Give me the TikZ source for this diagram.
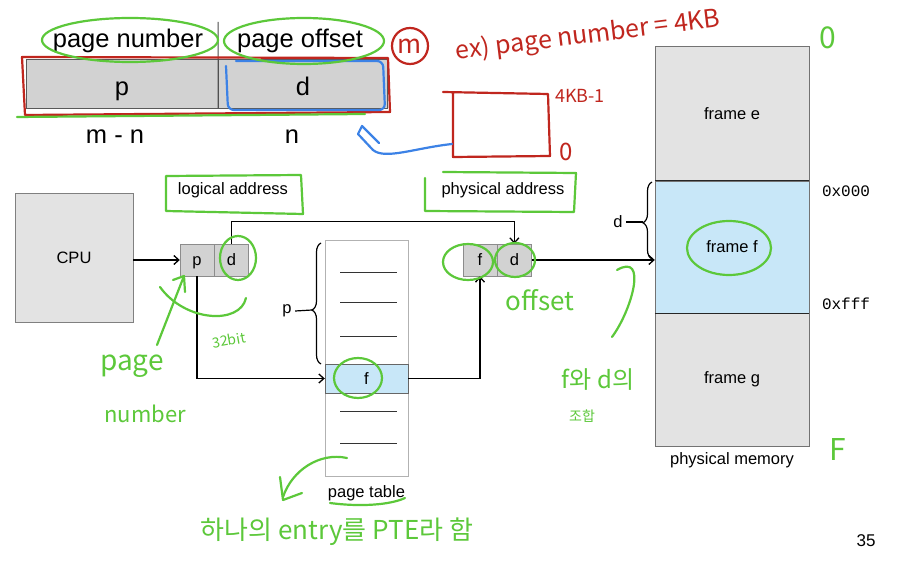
\documentclass[tikz,border=0pt]{standalone}
\usepackage{fontspec}
\setmainfont{Liberation Sans}
\newfontfamily\hexfont{Liberation Mono}
\newfontfamily\handfont{Noto Sans CJK KR}
\usetikzlibrary{arrows}
\usetikzlibrary{arrows.meta}
\usetikzlibrary{positioning}
\usetikzlibrary{decorations.pathreplacing}

\definecolor{cellgray}{HTML}{D2D2D2}
\definecolor{boxgray}{HTML}{E3E3E3}
\definecolor{frameblue}{HTML}{C8E7F8}
\definecolor{pengreen}{HTML}{5CC83A}
\definecolor{penred}{HTML}{C0261E}
\definecolor{penblue}{HTML}{3C82E6}

\newcommand{\slidefont}{\fontsize{16.5}{18}\selectfont}
\newcommand{\headfont}{\fontsize{25.5}{28}\selectfont}

\begin{document}
\begin{tikzpicture}[x=1pt,y=-1pt,
  barcell/.style={draw=black!65,fill=cellgray,minimum height=49pt,inner sep=0pt,font=\headfont,text height=25pt,text depth=0pt},
  addrcell/.style={draw=black!45,fill=cellgray,minimum width=34pt,minimum height=32pt,inner sep=0pt,font=\slidefont,text height=12pt,text depth=0pt},
  memframe/.style={draw=black!55,fill=boxgray,minimum width=154pt,inner sep=0pt,font=\slidefont},
  label/.style={font=\slidefont},
  arr/.style={-{Straight Barb[length=5pt,width=9pt]},line width=1.3pt},
  greenpen/.style={draw=pengreen,line width=2.2pt,line cap=round,line join=round},
  redpen/.style={draw=penred,line width=2.2pt,line cap=round,line join=round},
  bluepen/.style={draw=penblue,line width=2.2pt,line cap=round,line join=round},
  greennote/.style={text=pengreen,font=\handfont\fontsize{24}{26}\selectfont,inner sep=0pt},
  rednote/.style={text=penred,font=\handfont\fontsize{24}{26}\selectfont,inner sep=0pt}
]
\useasboundingbox[fill=white] (0,0) rectangle (898,572);

% address fields
\node[barcell,minimum width=192pt] (pfield) at (122,83.5) {p};
\node[barcell,minimum width=169pt,right=0pt of pfield] (dfield) {d};
\node[font=\headfont] (pnum) at (128,41) {page number};
\node[font=\headfont] (poff) at (300,41) {page offset};
\node[font=\headfont] (mnbits) at (115,137) {m - n};
\node[font=\headfont] (nbits) at (292,137) {n};
\coordinate (divtop) at (218,22);
\draw[black!70,line width=1pt] (divtop) -- (pfield.south east);

% cpu and addresses
\node[draw=black!50,fill=boxgray,minimum width=118pt,minimum height=129pt,font=\slidefont] (cpu) at (74,257.5) {CPU};
\node[addrcell] (lp) at (197,260) {p};
\node[addrcell,right=0pt of lp] (ld) {d};
\node[addrcell] (pf) at (480,260) {f};
\node[addrcell,right=0pt of pf] (pd) {d};
\node[label] (logaddr) at (233,190) {logical address};
\node[label] (phyaddr) at (503,190) {physical address};

% page table
\node[draw=black!30,line width=1pt,minimum width=83pt,minimum height=235pt] (ptable) at (366.5,358.5) {};
\node[draw=black!60,fill=frameblue,minimum width=83pt,minimum height=29pt,font=\slidefont] (ptf) at (366.5,378.5) {f};
\foreach \y in {273,303,337,411,443}
  \draw[black!80,line width=1pt] (340,\y) -- (397,\y);
\node[label,below=6pt of ptable] (ptname) {page table};
\draw[line width=1.2pt,decorate,decoration={brace,amplitude=9pt,aspect=0.446}] (321,364) -- (321,243);
\node[label] (pbrace) at (287,311) {p};
\coordinate (ptip) at (312,310);
\draw[line width=1.2pt] (pbrace.east) -- (ptip);

% physical memory
\node[memframe,minimum height=134.5pt] (framee) at (732,113.75) {frame e};
\node[memframe,fill=frameblue,minimum height=132pt] (framef) at (732,247) {frame f};
\node[memframe,minimum height=133pt] (frameg) at (732,379.5) {frame g};
\draw[black!85,line width=1.3pt] (framef.north west) -- (framef.north east);
\draw[black!85,line width=1.3pt] (framef.south west) -- (framef.south east);
\node[label,below=3pt of frameg] (physmem) {physical memory};
\node[font=\hexfont\fontsize{16}{18}\selectfont] (lowaddr) at (846,191) {0x000};
\node[font=\hexfont\fontsize{16}{18}\selectfont] (highaddr) at (846,304) {0xfff};
\draw[line width=1.2pt,decorate,decoration={brace,amplitude=9pt,aspect=0.47}] (652,259) -- (652,182);
\node[label] (dbrace) at (618,222) {d};
\coordinate (dtip) at (643,222);
\draw[line width=1.2pt] (dbrace.east) -- (dtip);
\node[font=\fontsize{17}{19}\selectfont] (slideno) at (866,541) {35};

% connectors
\draw[arr] (cpu.east |- lp) -- (lp.west);
\draw[arr] (ld.north) -- ++(0,-22) -| (pd.north);
\draw[arr] (lp.south) |- (ptf.west);
\draw[arr] (ptf.east) -| (pf.south);
\draw[arr] (pd.east) -- (pd.east -| framef.west);

% red notes
\draw[redpen] (22,57) -- (388,58) -- (390,112) -- (25,115) -- cycle;
\node[redpen,circle,minimum size=36pt,inner sep=0pt,text=penred,font=\handfont\fontsize{26}{28}\selectfont] (mcirc) at (410,46) {m};
\node[rednote,rotate=7,font=\handfont\fontsize{25}{27}\selectfont] (exnote) at (588,36) {ex) page number = 4KB};
\draw[redpen] (443,92) -- (548,94) -- (550,156) -- (453,157) -- (453,93);
\node[rednote,font=\handfont\fontsize{18}{20}\selectfont] (topoff) at (580,96) {4KB-1};
\node[rednote] (botoff) at (566,152) {0};

% blue notes
\draw[bluepen,rounded corners=6pt] (236,61) -- (383,61) -- (385,110) -- (228,110) -- (226,66);
\draw[bluepen] (452,144) .. controls (415,148) and (385,160) .. (373,150) -- (358,134) -- (362,126) -- (379,143);

% green notes
\draw[greenpen] (130,40) ellipse [x radius=88, y radius=22];
\draw[greenpen] (304,41) ellipse [x radius=80, y radius=23];
\draw[greenpen] (17,117) -- (365,114);
\draw[greenpen] (166,176) -- (301,175) -- (303,214) -- (166,211) -- cycle;
\draw[greenpen] (425,178) -- (425,211) -- (574,212) -- (576,173) -- (443,172);
\draw[greenpen] (238,258) ellipse [x radius=18, y radius=22];
\draw[greenpen] (468,262) ellipse [x radius=25, y radius=18];
\draw[greenpen] (515,260) ellipse [x radius=20, y radius=17];
\draw[greenpen] (358,378) ellipse [x radius=24, y radius=20];
\draw[greenpen] (729,248) ellipse [x radius=42, y radius=27];
\draw[greenpen] (157,345) -- (184,276);
\draw[greenpen] (173,280) -- (184,276) -- (185,292);
\draw[greenpen] (160,287) .. controls (185,322) and (240,325) .. (246,298);
\node[greennote,rotate=10,font=\handfont\fontsize{14}{16}\selectfont] (bitnote) at (229,340) {32bit};
\node[greennote,font=\handfont\fontsize{28}{30}\selectfont] (pagenote) at (132,366) {page};
\node[greennote,font=\handfont\fontsize{22}{24}\selectfont] (numnote) at (145,414) {number};
\node[greennote,font=\handfont\fontsize{26}{28}\selectfont] (offnote) at (540,300) {offset};
\draw[greenpen] (617,270) .. controls (648,252) and (632,310) .. (612,337);
\node[greennote] (fdnote) at (598,380) {f와 d의};
\node[greennote,font=\handfont\fontsize{14}{16}\selectfont] (jonote) at (582,416) {조합};
\node[greennote,font=\handfont\fontsize{30}{32}\selectfont] (topzero) at (828,38) {0};
\node[greennote,font=\handfont\fontsize{30}{32}\selectfont] (bigf) at (838,450) {F};
\draw[greenpen] (347,458) .. controls (320,452) and (292,470) .. (283,497);
\draw[greenpen] (280,477) -- (283,500) -- (302,493);
\draw[greenpen] (330,503) .. controls (360,507) and (390,505) .. (405,498);
\node[greennote,font=\handfont\fontsize{26}{28}\selectfont] (ptenote) at (337,532) {하나의 entry를 PTE라 함};

\end{tikzpicture}
\end{document}
